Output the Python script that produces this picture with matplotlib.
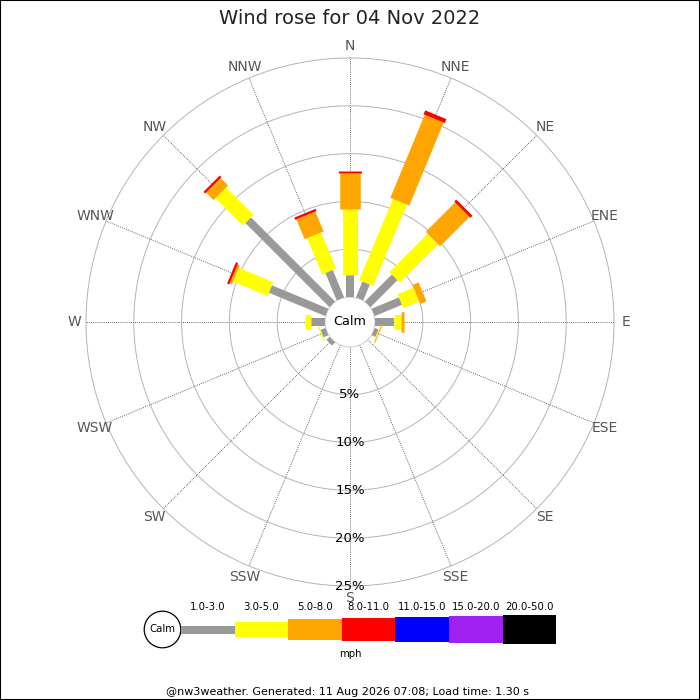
import numpy as np
import matplotlib
matplotlib.use("Agg")
import matplotlib.pyplot as plt
from matplotlib.patches import Rectangle, Circle

# 風向ラベル (N から時計回り)
directions = ["N", "NNE", "NE", "ENE", "E", "ESE", "SE", "SSE",
              "S", "SSW", "SW", "WSW", "W", "WNW", "NW", "NNW"]

# 風速階級ごとの頻度 (%)
speed_bins = ["1.0-3.0", "3.0-5.0", "5.0-8.0", "8.0-11.0",
              "11.0-15.0", "15.0-20.0", "20.0-50.0"]
freq_1_3 = [2.25, 1.8, 4.0, 3.1, 2.0, 0.45, 0, 0, 0, 0, 0.45, 0.55, 1.45, 6.4, 12.45, 3.1]
freq_3_5 = [6.95, 9.2, 5.65, 1.8, 0.7, 0.1, 0, 0, 0, 0, 0, 0.15, 0.65, 3.9, 4.05, 4.1]
freq_5_8 = [3.75, 9.4, 4.35, 0.7, 0.35, 0.1, 0, 0, 0, 0, 0, 0, 0, 0.25, 1.1, 2.25]
freq_8_11 = [0.25, 0.45, 0.3, 0, 0, 0, 0, 0, 0, 0, 0, 0, 0, 0.25, 0.25, 0.25]
freq_11_15 = [0] * 16
freq_15_20 = [0] * 16
freq_20_50 = [0] * 16
pct_rings = [5, 10, 15, 20, 25]

title = "Wind rose for 04 Nov 2022"
footer = "@nw3weather. Generated: 11 Aug 2026 07:08; Load time: 1.30 s"

colors = ["#999999", "#ffff00", "#ffa500", "#ff0000", "#0000ff", "#a020f0", "#000000"]
bar_px = [8, 15, 20.5, 23, 25, 27, 29]  # 棒の太さ (px)

series = [freq_1_3, freq_3_5, freq_5_8, freq_8_11, freq_11_15, freq_15_20, freq_20_50]

# --------------------Plot------------------------
fig = plt.figure(figsize=(7, 7), dpi=100)
fig.set_facecolor("white")

# 中心 (350, 322) px, 外周半径 264 px, Calm 円半径 25 px
R_px = 264.0
calm_px = 25.0
rmax = pct_rings[-1]
k = (R_px - calm_px) / rmax
ax = fig.add_axes([(350 - R_px) / 700, (700 - 322 - R_px) / 700,
                   2 * R_px / 700, 2 * R_px / 700], projection="polar")
ax.set_theta_zero_location("N")
ax.set_theta_direction(-1)
ax.set_rorigin(-calm_px / k)
ax.set_ylim(0, rmax)

theta = np.deg2rad(np.arange(len(directions)) * 22.5)
ax.set_xticks(theta)
ax.set_xticklabels([])
ax.set_yticks(pct_rings)
ax.set_yticklabels([])
ax.tick_params(length=0)
ax.xaxis.grid(True, color="#333333", linestyle=(0, (1, 1.5)), linewidth=0.6)
ax.yaxis.grid(True, color="#b4b4b4", linestyle="-", linewidth=0.7)
for gl in ax.yaxis.get_gridlines():
    gl.set_clip_on(False)
ax.spines["polar"].set_visible(False)
ax.spines["inner"].set_color("#cccccc")
ax.spines["inner"].set_linewidth(0.7)
ax.set_facecolor("white")

# 積み上げ棒
bottom = np.zeros(len(directions))
for j, vals in enumerate(series):
    vals = np.array(vals, dtype=float)
    for i in range(len(directions)):
        if vals[i] <= 0:
            continue
        ax.plot([theta[i], theta[i]], [bottom[i], bottom[i] + vals[i]],
                color=colors[j], lw=bar_px[j] * 0.72, solid_capstyle="butt",
                zorder=3 + j)
    bottom = bottom + vals

# 方位ラベル
for i, name in enumerate(directions):
    ax.text(theta[i], rmax + 12 / k, name, ha="center", va="center",
            fontsize=10, color="#555555", clip_on=False, zorder=2)

# %ラベル
for p in pct_rings:
    ax.text(np.pi, p, f"{p}%", ha="center", va="center", fontsize=9.5,
            color="black", clip_on=False, zorder=10)

ax.text(0.5, 0.5, "Calm", transform=ax.transAxes, ha="center", va="center",
        fontsize=9.2, color="black", zorder=12)

# タイトル
fig.text(0.5, 1 - 18 / 700, title, ha="center", va="center", fontsize=14, color="#222222")

# 凡例 (px 座標)
lax = fig.add_axes([0, 0, 1, 1])
lax.set_xlim(0, 700)
lax.set_ylim(700, 0)
lax.axis("off")
lax.patch.set_alpha(0)

seg_w = 53.6
x0 = 181.0
yc = 629.5
lax.add_patch(Circle((162.5, yc), 18.3, facecolor="white", edgecolor="black", lw=0.9))
lax.text(162.5, yc, "Calm", ha="center", va="center", fontsize=7.3)
centers = x0 + seg_w * (np.arange(len(speed_bins)) + 0.5)
heights = np.array(bar_px)
lax.bar(centers, heights, width=seg_w, bottom=yc - heights / 2, color=colors,
        linewidth=0)
for c, lab in zip(centers, speed_bins):
    lax.text(c, 607, lab, ha="center", va="center", fontsize=7.3)
lax.text(350, 654, "mph", ha="center", va="center", fontsize=7.3)
lax.text(348, 692, footer, ha="center", va="center", fontsize=8)

# 枠線
fig.patches.append(Rectangle((0, 0), 1, 1, transform=fig.transFigure,
                             fill=False, edgecolor="black", lw=1.5))

fig.savefig("out.png", dpi=100)
